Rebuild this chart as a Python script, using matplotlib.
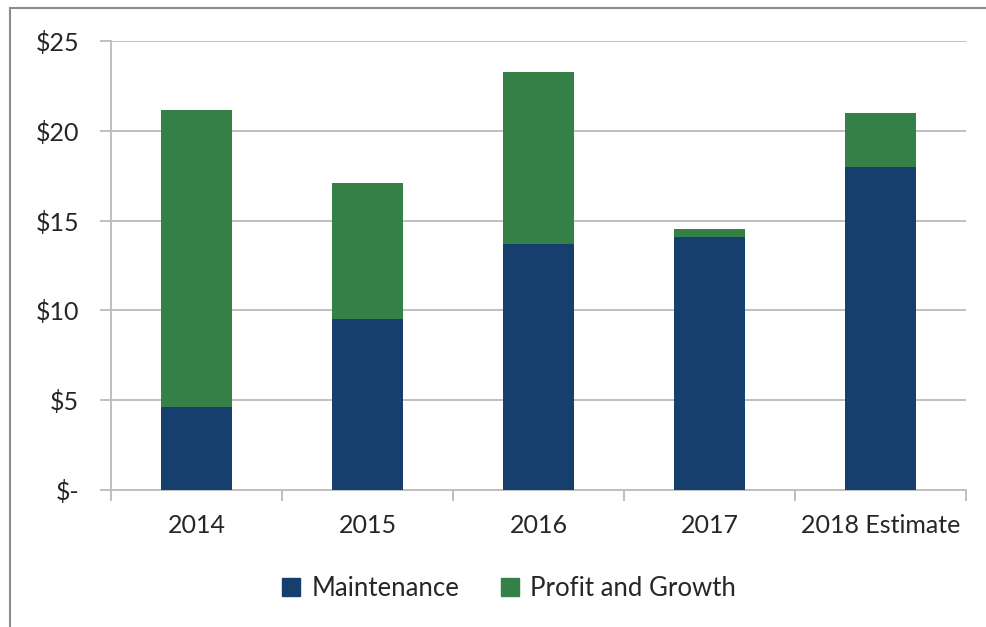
import matplotlib
matplotlib.use("Agg")
import matplotlib.pyplot as plt
from matplotlib.lines import Line2D
from matplotlib.patches import Patch

categories = ["2014", "2015", "2016", "2017", "2018 Estimate"]
maintenance = [4.64, 9.50, 13.70, 14.10, 18.00]
profit_growth = [16.52, 7.58, 9.57, 0.41, 3.01]
yticks = [0, 5, 10, 15, 20, 25]
ytick_labels = ["$-", "$5", "$10", "$15", "$20", "$25"]

navy = "#173F6D"
green = "#358046"
grid_c = "#BFBFBF"
text_c = "#262626"

plt.rcParams['font.family'] = ['Lato', 'DejaVu Sans']

fig = plt.figure(figsize=(9.86, 6.27), dpi=100)
# outer frame (top and left edges visible)
fig.add_artist(Line2D([10/986, 1.0], [1 - 8/627, 1 - 8/627], transform=fig.transFigure,
                      color="#8C8C8C", linewidth=1.5))
fig.add_artist(Line2D([10/986, 10/986], [0, 1 - 8/627], transform=fig.transFigure,
                      color="#8C8C8C", linewidth=1.5))

ax = fig.add_axes([111/986, 137/627, 855/986, 449/627])

x = list(range(len(categories)))
ax.bar(x, maintenance, width=0.41, color=navy, label="Maintenance", zorder=3)
ax.bar(x, profit_growth, width=0.41, bottom=maintenance, color=green,
       label="Profit and Growth", zorder=3)

ax.set_xlim(-0.5, len(categories) - 0.5)
ax.set_ylim(0, 25)
ax.set_yticks(yticks)
ax.set_yticklabels(ytick_labels)
ax.set_xticks(x)
ax.set_xticklabels(categories)
ax.set_xticks([i - 0.5 for i in range(len(categories) + 1)], minor=True)

ax.grid(axis='y', color=grid_c, linewidth=1.4, zorder=0)
for s in ["top", "right"]:
    ax.spines[s].set_visible(False)
for s in ["left", "bottom"]:
    ax.spines[s].set_color(grid_c)
    ax.spines[s].set_linewidth(1.4)

ax.tick_params(axis='y', length=8, color=grid_c, width=1.4, pad=15, labelsize=18, labelcolor=text_c)
ax.tick_params(axis='x', which='major', length=0, pad=17, labelsize=18, labelcolor=text_c)
ax.tick_params(axis='x', which='minor', length=8, color=grid_c, width=1.4)

handles = [Patch(color=navy), Patch(color=green)]
fig.legend(handles, ["Maintenance", "Profit and Growth"], loc='center',
           bbox_to_anchor=(509/986, 1 - 588/627), ncol=2, frameon=False,
           fontsize=18.5, handlelength=0.7, handleheight=0.7, columnspacing=1.6,
           handletextpad=0.45, labelcolor=text_c)

fig.savefig("out.png", dpi=100, facecolor="white")
